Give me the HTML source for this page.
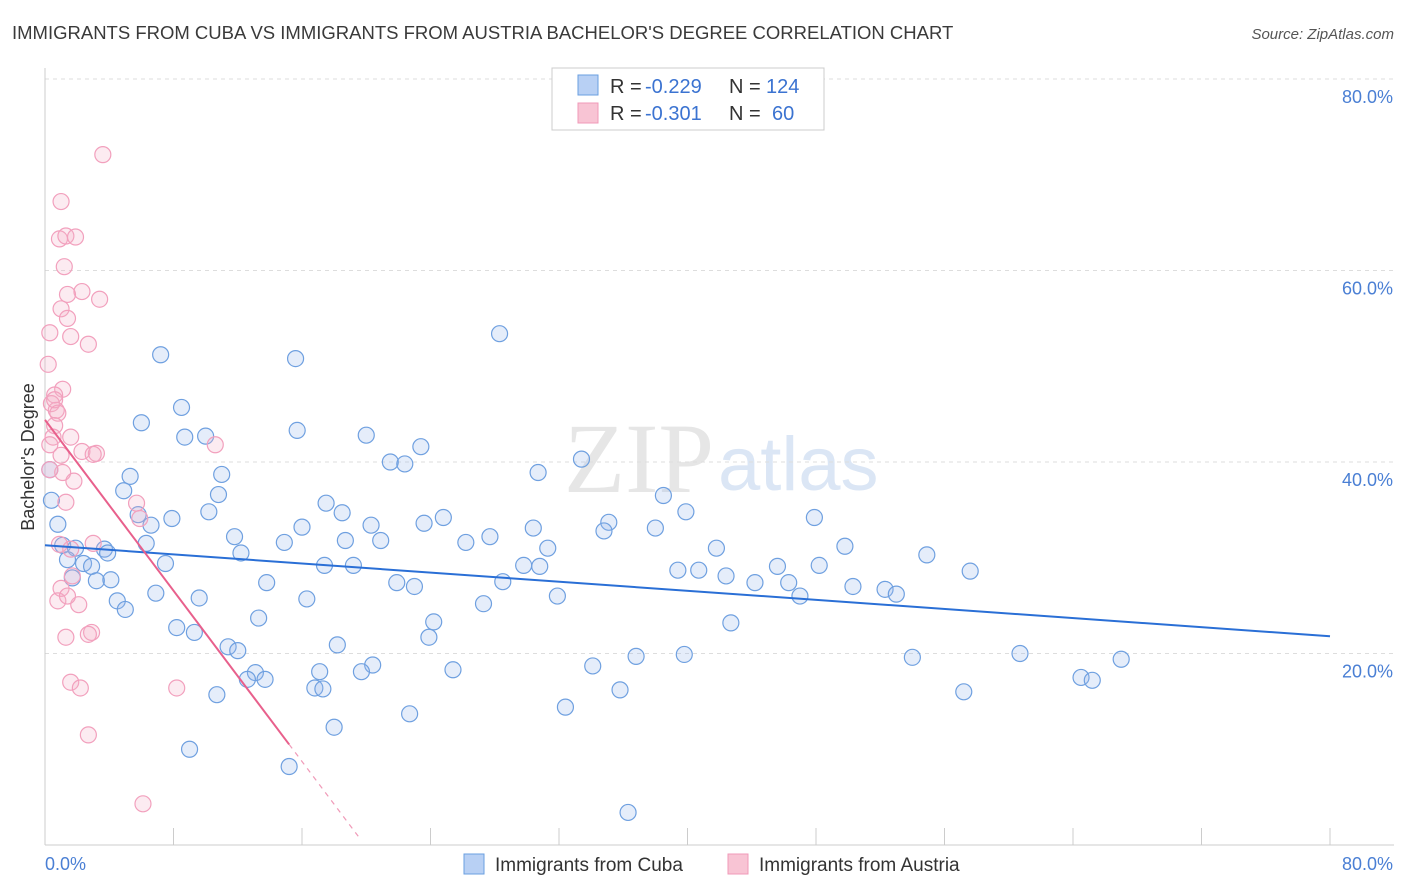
<!DOCTYPE html>
<html><head><meta charset="utf-8"><style>
body{margin:0;background:#fff;font-family:"Liberation Sans",sans-serif;}
svg{display:block}
</style></head><body>
<svg id="chart" width="1406" height="892">
<text x="12" y="39" font-size="18.5" fill="#3a3a3a">IMMIGRANTS FROM CUBA VS IMMIGRANTS FROM AUSTRIA BACHELOR'S DEGREE CORRELATION CHART</text>
<text x="1394" y="39" font-size="15" fill="#555" font-style="italic" text-anchor="end">Source: ZipAtlas.com</text>
<text x="714" y="492" font-size="100" fill="#e6e6e6" text-anchor="end" font-family="Liberation Serif,serif">ZIP</text>
<text x="718" y="490" font-size="76" fill="#dbe6f5">atlas</text>
<g id="grid"></g><g id="axes"></g><g id="marks"></g>
<text transform="translate(34,457) rotate(-90)" font-size="18" fill="#333" text-anchor="middle">Bachelor's Degree</text>
<g>
<rect x="552" y="68" width="272" height="62" fill="#fff" stroke="#ccc"/>
<rect x="578" y="75" width="20" height="20" fill="#b8d0f4" stroke="#6a9fe0"/>
<rect x="578" y="103" width="20" height="20" fill="#f8c4d4" stroke="#f09ab8"/>
<text y="93" font-size="20" fill="#333"><tspan x="610">R =</tspan><tspan x="645" fill="#3b73d1">-0.229</tspan><tspan x="729">N =</tspan><tspan x="766" fill="#3b73d1">124</tspan></text>
<text y="120" font-size="20" fill="#333"><tspan x="610">R =</tspan><tspan x="645" fill="#3b73d1">-0.301</tspan><tspan x="729">N =</tspan><tspan x="772" fill="#3b73d1">60</tspan></text>
</g>
<g>
<rect x="464" y="854" width="20" height="20" fill="#b8d0f4" stroke="#6a9fe0"/>
<text x="495" y="871" font-size="19" fill="#333">Immigrants from Cuba</text>
<rect x="728" y="854" width="20" height="20" fill="#f8c4d4" stroke="#f09ab8"/>
<text x="759" y="871" font-size="19" fill="#333">Immigrants from Austria</text>
</g>
</svg>
<script>
const xTicks=[0,10,20,30,40,50,60,70,80];
const yTicks=[20,40,60,80];
const cubaX=[7.2,15.6,28.3,8.5,6.0,8.7,10.0,15.7,20.0,23.4,21.5,22.4,33.4,30.7,5.3,11.0,4.9,10.8,17.5,10.2,5.8,18.5,7.9,6.6,0.8,16.0,20.3,23.6,24.8,30.4,35.1,34.8,38.0,38.5,39.9,47.9,11.8,14.9,18.7,20.9,26.2,27.7,31.3,41.8,49.8,54.9,1.1,1.9,3.7,3.9,6.3,12.2,1.4,2.4,2.9,7.5,17.4,19.2,29.8,30.8,39.4,40.7,45.6,48.2,57.6,1.7,3.2,4.1,13.8,21.9,23.0,28.5,42.4,44.2,46.3,50.3,52.3,53.0,47.0,6.9,4.5,5.0,9.6,16.3,27.3,31.9,13.3,24.2,23.9,42.7,8.2,9.3,11.4,12.0,18.2,20.4,19.7,17.1,13.1,13.7,12.6,16.8,17.3,25.4,34.1,36.8,39.8,54.0,60.7,67.0,64.5,65.2,57.2,35.8,32.4,10.7,22.7,18.0,9.0,15.2,36.3,0.3,0.4];
const cubaY=[51.2,50.8,53.4,45.7,44.1,42.6,42.7,43.3,42.8,41.6,40.0,39.8,40.3,38.9,38.5,38.7,37.0,36.6,35.7,34.8,34.5,34.7,34.1,33.4,33.5,33.2,33.4,33.6,34.2,33.1,33.7,32.8,33.1,36.5,34.8,34.2,32.2,31.6,31.8,31.8,31.6,32.2,31.0,31.0,31.2,30.3,31.3,31.0,30.9,30.5,31.5,30.5,29.8,29.4,29.1,29.4,29.2,29.2,29.2,29.1,28.7,28.7,29.1,29.2,28.6,27.9,27.6,27.7,27.4,27.4,27.0,27.5,28.1,27.4,27.4,27.0,26.7,26.2,26.0,26.3,25.5,24.6,25.8,25.7,25.2,26.0,23.7,23.3,21.7,23.2,22.7,22.2,20.7,20.3,20.9,18.8,18.1,18.1,18.0,17.3,17.3,16.4,16.3,18.3,18.7,19.7,19.9,19.6,20.0,19.4,17.5,17.2,16.0,16.2,14.4,15.7,13.7,12.3,10.0,8.2,3.4,39.2,36.0];
const austriaX=[3.6,1.0,0.9,1.3,1.9,1.2,2.3,1.4,3.4,1.0,1.4,1.6,0.3,2.7,0.2,1.1,0.6,0.4,0.7,0.6,0.8,0.6,0.5,1.6,0.3,2.3,3.2,3.0,1.0,1.1,1.8,1.3,5.7,0.3,3.0,1.6,1.7,1.0,0.8,2.1,1.4,2.9,1.3,2.7,1.6,2.2,8.2,2.7,6.1,10.6,5.9,0.9];
const austriaY=[72.1,67.2,63.3,63.6,63.5,60.4,57.8,57.5,57.0,56.0,55.0,53.1,53.5,52.3,50.2,47.6,47.0,46.1,45.4,46.5,45.1,43.8,42.6,42.6,41.8,41.1,40.9,40.8,40.7,38.9,38.0,35.8,35.7,39.2,31.5,30.9,28.1,26.8,25.5,25.1,26.0,22.2,21.7,22.0,17.0,16.4,16.4,11.5,4.3,41.8,34.1,31.4];
const cubaTrend=[31.3,21.8];       // y at x=0 and x=80
const austriaTrend=[44.4,-2.23];   // intercept, slope
const NS="http://www.w3.org/2000/svg";
const X=v=>45+v*(1285/80), Y=v=>845-v*(766/80);
function mk(tag,attrs,parent){const e=document.createElementNS(NS,tag);for(const k in attrs)e.setAttribute(k,attrs[k]);parent.appendChild(e);return e;}
const grid=document.getElementById('grid'),axes=document.getElementById('axes'),marks=document.getElementById('marks');
yTicks.forEach(t=>{
 const l=mk('line',{x1:45,x2:1394,y1:Y(t),y2:Y(t),stroke:'#ddd','stroke-dasharray':'4,4'},grid);
 
 
 const tx=mk('text',{x:1393,y:Y(t)+24,'font-size':18,fill:'#4a7fd4','text-anchor':'end'},axes);
 tx.textContent=t.toFixed(1)+'%';
 
 
});
const bl=mk('line',{x1:45,x2:1394,y1:845,y2:845,stroke:'#ccc'},axes);


const ll=mk('line',{x1:45,x2:45,y1:68,y2:845,stroke:'#ccc'},axes);


for(let i=0;i<=10;i++){const v=i*8;const t=mk('line',{x1:X(v),x2:X(v),y1:828,y2:845,stroke:'#ccc'},axes);
 
 }
[[0,'start',45],[80,'end',1393]].forEach(([v,a,x])=>{const tx=mk('text',{x:x,y:870,'font-size':18,fill:'#4a7fd4','text-anchor':a},axes);tx.textContent=v.toFixed(1)+'%';
 
 });
cubaX.forEach((x,i)=>{const c=mk('circle',{cx:X(x),cy:Y(cubaY[i]),r:8,fill:'rgba(150,185,235,0.25)',stroke:'#6fa0e0','stroke-width':1.2},marks);
 
 });
austriaX.forEach((x,i)=>{const c=mk('circle',{cx:X(x),cy:Y(austriaY[i]),r:8,fill:'rgba(245,175,200,0.25)',stroke:'#f2a0bd','stroke-width':1.2},marks);
 
 });
const t1=mk('line',{x1:X(0),y1:Y(cubaTrend[0]),x2:X(80),y2:Y(cubaTrend[1]),stroke:'#2a6fd6','stroke-width':2},marks);


const ay=x=>austriaTrend[0]+austriaTrend[1]*x;
const t2=mk('line',{x1:X(0),y1:Y(ay(0)),x2:X(15.2),y2:Y(ay(15.2)),stroke:'#e8608c','stroke-width':2},marks);


const t3=mk('line',{x1:X(15.2),y1:Y(ay(15.2)),x2:X(19.5),y2:Y(ay(19.5)),stroke:'#f09ab8','stroke-width':1.2,'stroke-dasharray':'5,5'},marks);


</script>
</body></html>
